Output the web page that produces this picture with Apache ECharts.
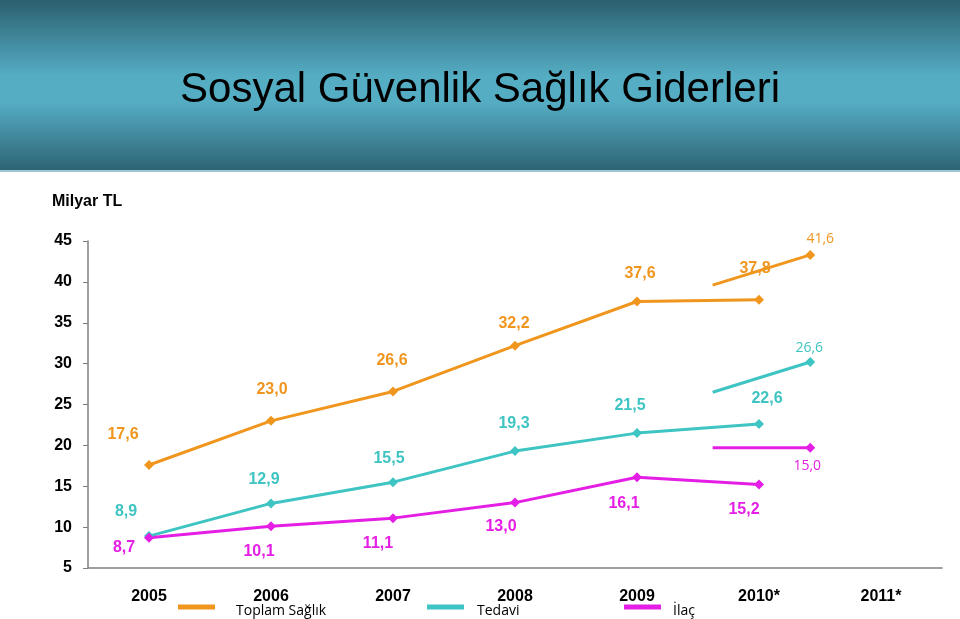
<!DOCTYPE html>
<html><head><meta charset="utf-8">
<script src="https://cdn.jsdelivr.net/npm/echarts@6/dist/echarts.min.js"></script>
<style>html,body{margin:0;padding:0;background:#fff}#c{width:960px;height:619px}</style>
</head><body><div id="c"></div>
<script>
// ---- data ----
const categories = ['2005', '2006', '2007', '2008', '2009', '2010*', '2011*'];
const toplam = [17.6, 23.0, 26.6, 32.2, 37.6, 37.8];
const tedavi = [8.9, 12.9, 15.5, 19.3, 21.5, 22.6];
const ilac   = [8.7, 10.1, 11.1, 13.0, 16.1, 15.2];
// 2011 segments as drawn (start, end) and their printed values
const toplam2011 = [39.6, 43.3];
const tedavi2011 = [26.5, 30.2];
const ilac2011   = [19.7, 19.7];
const labels2011 = [41.6, 26.6, 15.0];
const seg2011X = [4.62, 5.42];
const yTicks = [5, 45, 5]; // min, max, step

// ---- styles ----
const C_OR = '#F0961E', C_TE = '#3EC4C2', C_IL = '#E41EE4';
const fmt = v => v.toFixed(1).replace('.', ',');
const offT = [[-26,-30],[1,-31],[-1,-31],[-1,-22],[3,-28],[-4,-31]];
const offE = [[-23,-25],[-7,-24],[-4,-24],[-1,-28],[-7,-28],[8,-26]];
const offI = [[-25,10],[-12,25],[-15,25],[-14,24],[-13,26],[-15,25]];

function mk(vals, offs, color) {
  return vals.map((v, i) => ({
    value: [i, v],
    label: { show: true, position: 'inside', offset: offs[i], formatter: fmt(v),
      color: color, fontSize: 16, fontWeight: 'bold', fontFamily: 'Liberation Sans, Arial, sans-serif' }
  }));
}
function seg(vals, lbl, off, color) {
  return [
    { value: [seg2011X[0], vals[0]], symbol: 'none', label: { show: false } },
    { value: [seg2011X[1], vals[1]], label: { show: true, position: 'inside', offset: off, formatter: fmt(lbl),
      color: color, fontSize: 14, fontWeight: 'normal', fontFamily: 'Open Sans, Noto Sans, sans-serif' } }
  ];
}
function line(name, data, color) {
  return { name, type: 'line', xAxisIndex: 1, data, symbol: 'diamond', symbolSize: 10,
    lineStyle: { color, width: 3 }, itemStyle: { color }, animation: false, z: 3 };
}

const chart = echarts.init(document.getElementById('c'));
const legendCommon = { icon: 'rect', itemWidth: 37, itemHeight: 5, top: 604, padding: 0,
  selectedMode: false, formatter: '{a|{name}}' };
const legText = pad => ({ fontFamily: 'Open Sans, Noto Sans, sans-serif', fontSize: 14, color: '#000', padding: [0, 0, 0, pad],
  rich: { a: { fontFamily: 'Open Sans, Noto Sans, sans-serif', fontSize: 14, color: '#000', padding: [8, 0, 0, 0] } } });
chart.setOption({
  backgroundColor: '#fff',
  graphic: [
    { type: 'rect', left: 0, top: 0, shape: { width: 960, height: 170 }, z: -10,
      style: { fill: new echarts.graphic.LinearGradient(0, 0, 0, 1, [
        { offset: 0, color: '#2B6070' }, { offset: 0.45, color: '#55ADC4' },
        { offset: 0.6, color: '#55ADC4' }, { offset: 1, color: '#2D6474' }]) } },
    { type: 'rect', left: 0, top: 170, shape: { width: 960, height: 2 }, z: -10, style: { fill: '#9CC7D2' } }
  ],
  title: [
    { text: 'Sosyal Güvenlik Sağlık Giderleri', left: 'center', top: 69, padding: 0,
      textStyle: { fontFamily: 'Liberation Sans, Arial, sans-serif', fontSize: 42, fontWeight: 'normal', color: '#000' } },
    { text: 'Milyar TL', left: 52, top: 194, padding: 0,
      textStyle: { fontFamily: 'Liberation Sans, Arial, sans-serif', fontSize: 16, fontWeight: 'bold', color: '#000' } }
  ],
  legend: [
    Object.assign({ left: 178, data: ['Toplam Sağlık'], textStyle: legText(16) }, legendCommon),
    Object.assign({ left: 427, data: ['Tedavi'], textStyle: legText(8) }, legendCommon),
    Object.assign({ left: 624, data: ['İlaç'], textStyle: legText(7) }, legendCommon)
  ],
  grid: { left: 88, right: 18, top: 241, bottom: 51, containLabel: false },
  xAxis: [
    { type: 'category', data: categories, boundaryGap: true,
      axisLine: { lineStyle: { color: '#808080', width: 1.5 } }, axisTick: { show: false },
      axisLabel: { color: '#000', fontSize: 16, fontWeight: 'bold', fontFamily: 'Liberation Sans, Arial, sans-serif', margin: 21 } },
    { type: 'value', min: -0.5, max: 6.5, show: false }
  ],
  yAxis: { type: 'value', min: yTicks[0], max: yTicks[1], interval: yTicks[2],
    axisLine: { show: true, onZero: false, lineStyle: { color: '#808080', width: 1.5 } },
    axisTick: { show: true, length: 5, lineStyle: { color: '#808080' } },
    splitLine: { show: false },
    axisLabel: { color: '#000', fontSize: 16, fontWeight: 'bold', fontFamily: 'Liberation Sans, Arial, sans-serif', margin: 16 } },
  series: [
    line('Toplam Sağlık', mk(toplam, offT, C_OR), C_OR),
    line('Tedavi', mk(tedavi, offE, C_TE), C_TE),
    line('İlaç', mk(ilac, offI, C_IL), C_IL),
    line('Toplam Sağlık', seg(toplam2011, labels2011[0], [10, -16], C_OR), C_OR),
    line('Tedavi', seg(tedavi2011, labels2011[1], [-1, -14], C_TE), C_TE),
    line('İlaç', seg(ilac2011, labels2011[2], [-3, 18], C_IL), C_IL)
  ]
});
</script></body></html>
